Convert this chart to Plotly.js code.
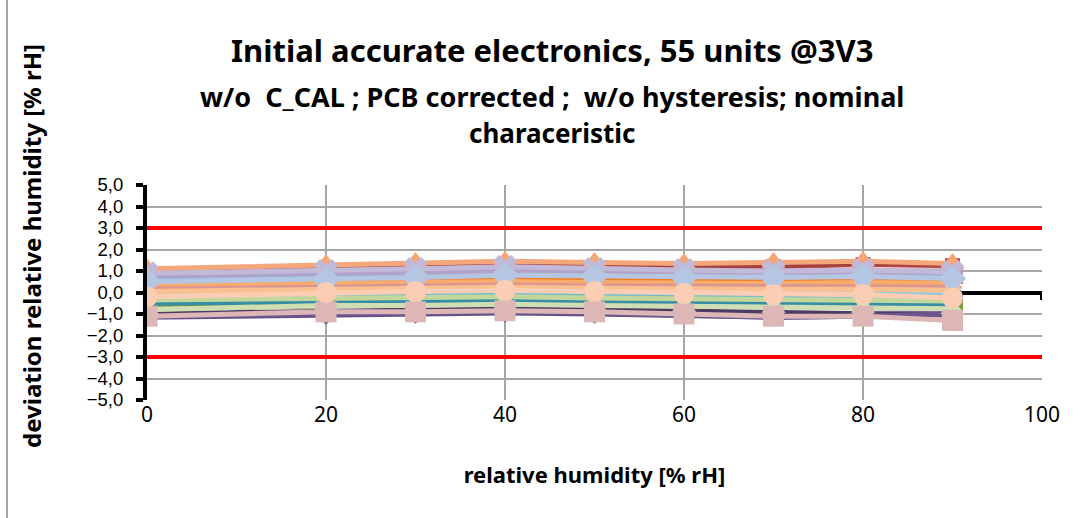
<!DOCTYPE html>
<html>
<head>
<meta charset="utf-8">
<script src="https://cdn.plot.ly/plotly-3.0.1.min.js"></script>
<style>html,body{margin:0;padding:0;background:#fff;}#chart{width:1080px;height:518px;}</style>
</head>
<body>
<div id="chart"></div>
<script>
// relative humidity points [% rH]
var rh = [0, 20, 30, 40, 50, 60, 70, 80, 90];

// deviation per unit [% rH] (drawing order)
var s01 = [0.30, 0.45, 0.50, 0.55, 0.50, 0.45, 0.50, 0.55, 0.50];
var s02 = [0.95, 1.05, 1.15, 1.20, 1.15, 1.15, 1.20, 1.30, 1.25];
var s03 = [-0.50, -0.35, -0.30, -0.25, -0.30, -0.35, -0.40, -0.40, -0.45];
var s04 = [-1.10, -1.00, -0.95, -0.90, -0.95, -1.00, -1.05, -1.00, -0.95];
var s05 = [-0.60, -0.50, -0.45, -0.40, -0.45, -0.55, -0.60, -0.60, -0.70];
var s06 = [0.20, 0.35, 0.40, 0.45, 0.40, 0.35, 0.35, 0.40, 0.35];
var s07 = [-0.30, -0.20, -0.15, -0.10, -0.15, -0.20, -0.25, -0.25, -0.30];
var s08 = [0.60, 0.70, 0.75, 0.80, 0.80, 0.75, 0.80, 0.85, 0.80];
var s09 = [-0.75, -0.60, -0.55, -0.50, -0.55, -0.60, -0.65, -0.65, -0.75];
var s10 = [-1.00, -0.85, -0.80, -0.75, -0.80, -0.85, -0.90, -0.95, -1.05];
var s11 = [-0.45, -0.35, -0.30, -0.30, -0.35, -0.40, -0.45, -0.45, -0.50];
var s12 = [0.75, 0.85, 0.90, 0.95, 0.90, 0.90, 0.90, 0.95, 0.90];
var s13 = [0.10, 0.20, 0.25, 0.30, 0.25, 0.20, 0.20, 0.25, 0.20];
var s14 = [0.45, 0.55, 0.60, 0.65, 0.60, 0.60, 0.60, 0.65, 0.60];
var s15 = [-0.65, -0.50, -0.50, -0.45, -0.50, -0.55, -0.60, -0.55, -0.65];
var s16 = [0.85, 0.95, 1.00, 1.05, 1.00, 1.00, 1.00, 1.05, 1.00];
var s17 = [-0.15, -0.05, 0.00, 0.00, -0.05, -0.10, -0.15, -0.15, -0.20];
var s18 = [0.35, 0.45, 0.50, 0.55, 0.50, 0.45, 0.45, 0.50, 0.45];
var s19 = [0.00, 0.10, 0.15, 0.20, 0.15, 0.10, 0.05, 0.10, 0.05];
var s20 = [1.00, 1.10, 1.20, 1.25, 1.20, 1.20, 1.25, 1.35, 1.30];
var s21 = [-0.55, -0.45, -0.40, -0.35, -0.40, -0.45, -0.50, -0.55, -0.60];
var s22 = [-1.15, -1.05, -1.00, -0.95, -1.00, -1.05, -1.15, -1.10, -1.00];
var s23 = [-0.50, -0.40, -0.40, -0.35, -0.40, -0.45, -0.50, -0.50, -0.55];
var s24 = [0.55, 0.65, 0.70, 0.75, 0.70, 0.65, 0.65, 0.70, 0.65];
var s25 = [0.65, 0.75, 0.80, 0.85, 0.80, 0.80, 0.80, 0.85, 0.75];
var s26 = [0.15, 0.25, 0.30, 0.35, 0.30, 0.30, 0.30, 0.30, 0.25];
var s27 = [-0.35, -0.25, -0.20, -0.20, -0.25, -0.30, -0.35, -0.35, -0.40];
var s28 = [0.80, 0.90, 0.95, 1.00, 0.95, 0.95, 0.95, 1.00, 0.95];
var s29 = [-0.05, 0.05, 0.10, 0.15, 0.10, 0.05, 0.00, 0.05, 0.00];
var s30 = [0.05, 0.15, 0.20, 0.25, 0.20, 0.15, 0.15, 0.15, 0.10];
var s31 = [-1.10, -1.00, -0.95, -0.90, -0.95, -1.05, -1.15, -1.10, -1.00];
var s32 = [1.10, 1.30, 1.40, 1.45, 1.40, 1.35, 1.40, 1.45, 1.35];
var s33 = [0.90, 1.00, 1.10, 1.20, 1.10, 1.05, 1.00, 1.05, 0.95];
var s34 = [0.50, 0.60, 0.70, 0.80, 0.75, 0.70, 0.70, 0.75, 0.65];
var s35 = [-0.80, -0.60, -0.60, -0.55, -0.60, -0.65, -0.70, -0.70, -0.75];
var s36 = [-1.10, -0.90, -0.90, -0.85, -0.90, -1.00, -1.10, -1.10, -1.30];
var s37 = [-0.20, 0.00, 0.05, 0.10, 0.05, -0.05, -0.10, -0.10, -0.25];

var seriesValues = [s01,s02,s03,s04,s05,s06,s07,s08,s09,s10,s11,s12,s13,s14,s15,s16,s17,s18,s19,s20,
                    s21,s22,s23,s24,s25,s26,s27,s28,s29,s30,s31,s32,s33,s34,s35,s36,s37];

var seriesColors = ['#4F81BD','#C0504D','#9BBB59','#8064A2','#4BACC6','#F79646',
                    '#2C4D75','#9E3B39','#5F7530','#4D3B62','#276A7C','#B65708',
                    '#729ACA','#CD7371','#AFC97A','#9983B5','#6FBDD1','#F9AB6B',
                    '#3A679C','#A5403D','#7E9D40','#664F83','#358EA6','#F37D22',
                    '#95B3D7','#D99694','#C3D69B','#B3A2C7','#93CDDD','#FAC090',
                    '#6A5590','#F5A77C','#C2B9D9','#B4C6E2','#D0DEB4','#DDB7B6','#FBCDB4'];
var seriesSymbols = ['diamond','square','triangle-up','x','asterisk','circle',
                     'cross','diamond','square','triangle-up','x','asterisk',
                     'circle','cross','diamond','square','triangle-up','x',
                     'asterisk','circle','cross','diamond','square','triangle-up',
                     'x','asterisk','circle','cross','diamond','square',
                     'triangle-down','triangle-up','x','diamond','triangle-up','square','circle'];

var limitX = [0, 100];
var limitUpper = [3, 3];
var limitLower = [-3, -3];

var traces = [];
seriesValues.forEach(function (v, i) {
  var c = seriesColors[i];
  var sym = seriesSymbols[i];
  var sz = i >= 31 ? 21 : 15;
  var mk = {symbol: sym, size: sz, color: c, line: {color: c, width: (sym === 'asterisk' || sym === 'cross') ? 3 : 0}};
  traces.push({x: rh, y: v, type: 'scatter', mode: 'lines+markers',
    line: {color: c, width: 5}, marker: mk, hoverinfo: 'skip', showlegend: false});
});
traces.push({x: limitX, y: limitUpper, type: 'scatter', mode: 'lines', line: {color: '#FF0000', width: 4}, hoverinfo: 'skip', showlegend: false});
traces.push({x: limitX, y: limitLower, type: 'scatter', mode: 'lines', line: {color: '#FF0000', width: 4}, hoverinfo: 'skip', showlegend: false});

var F = 'Noto Sans, Open Sans, sans-serif';
var FT = 'Liberation Sans, Arial, sans-serif';
var layout = {
  width: 1080, height: 518,
  margin: {l: 147, r: 38, t: 185, b: 118},
  paper_bgcolor: '#ffffff', plot_bgcolor: '#ffffff',
  separators: ', ',
  showlegend: false,
  font: {family: F, color: '#000000', size: 19},
  xaxis: {
    range: [0, 100], dtick: 20, tick0: 0,
    showgrid: true, gridcolor: '#A6A6A6', gridwidth: 2,
    zeroline: false, showline: false, ticks: '',
    tickfont: {family: F, size: 21, color: '#000'},
    ticklabelstandoff: 0,
    title: {text: '<b>relative humidity [% rH]</b>', font: {family: F, size: 22, color: '#000'}, standoff: 40},
    layer: 'below traces'
  },
  yaxis: {
    range: [-5, 5], dtick: 1, tick0: 0, tickformat: '.1f',
    showgrid: true, gridcolor: '#A6A6A6', gridwidth: 2,
    zeroline: true, zerolinecolor: '#000000', zerolinewidth: 4,
    showline: true, linecolor: '#000000', linewidth: 4,
    ticks: 'outside', ticklen: 7, tickwidth: 4, tickcolor: '#000000',
    tickfont: {family: FT, size: 18.5, color: '#000'},
    ticklabelstandoff: 9,
    layer: 'below traces'
  },
  annotations: [
    {xref: 'paper', yref: 'paper', x: 0.4525, y: 1 + (185 - 50) / 215, xanchor: 'center', yanchor: 'middle', showarrow: false,
     text: '<b>Initial accurate electronics, 55 units @3V3</b>', font: {family: F, size: 31, color: '#000'}},
    {xref: 'paper', yref: 'paper', x: 0.4525, y: 1 + (185 - 97) / 215, xanchor: 'center', yanchor: 'middle', showarrow: false,
     text: '<b>w/o  C_CAL ; PCB corrected ;  w/o hysteresis; nominal</b>', font: {family: F, size: 27, color: '#000'}},
    {xref: 'paper', yref: 'paper', x: 0.4525, y: 1 + (185 - 133) / 215, xanchor: 'center', yanchor: 'middle', showarrow: false,
     text: '<b>characeristic</b>', font: {family: F, size: 26, color: '#000'}},
    {xref: 'paper', yref: 'paper', x: (31 - 147) / 895, y: 1 - (246 - 185) / 215, xanchor: 'center', yanchor: 'middle', showarrow: false,
     textangle: -90, text: '<b>deviation relative humidity [% rH]</b>', font: {family: F, size: 24, color: '#000'}}
  ],
  shapes: [
    {type: 'line', xref: 'paper', yref: 'paper', x0: (7 - 147) / 895, x1: (7 - 147) / 895, y0: -118 / 215, y1: 1 + 185 / 215,
     line: {color: '#A6A6A6', width: 2}},
    {type: 'line', xref: 'x', yref: 'y', x0: 100, x1: 100, y0: 0, y1: -0.35, line: {color: '#000000', width: 4}, layer: 'below'}
  ]
};

Plotly.newPlot('chart', traces, layout, {displayModeBar: false, staticPlot: true});
</script>
</body>
</html>
